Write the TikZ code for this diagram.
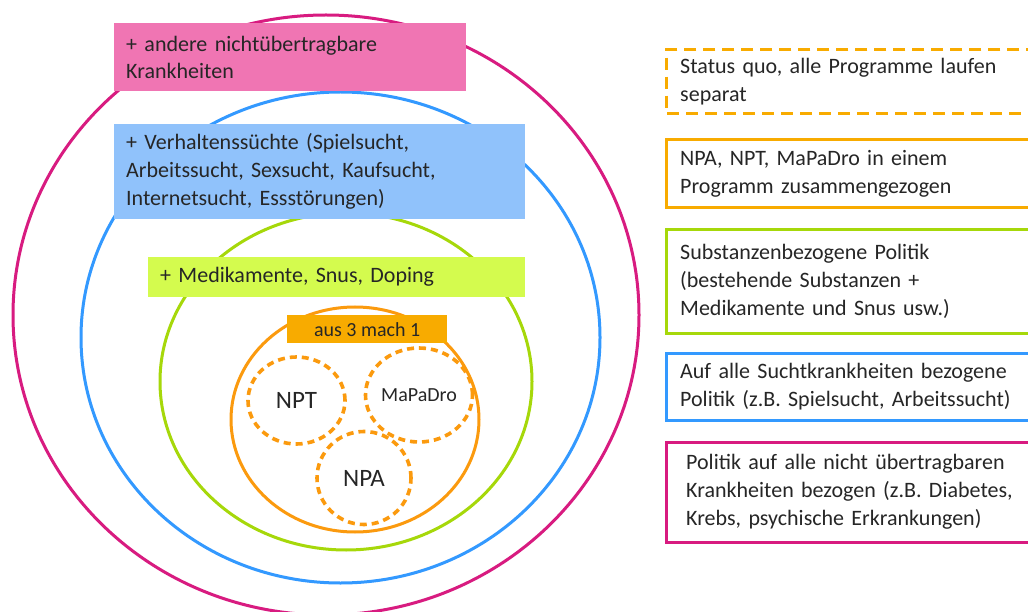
\documentclass[tikz,border=0pt]{standalone}
\usepackage{fontspec}
\setmainfont{Carlito}
\usetikzlibrary{shapes.geometric}

\definecolor{ink}{HTML}{262626}
\definecolor{magline}{HTML}{D81B80}
\definecolor{magfill}{HTML}{F075B3}
\definecolor{blueline}{HTML}{3399FF}
\definecolor{bluefill}{HTML}{90C2FB}
\definecolor{greenline}{HTML}{A6D80A}
\definecolor{greenfill}{HTML}{D4FB4E}
\definecolor{orgline}{HTML}{FB9A0E}
\definecolor{orgfill}{HTML}{F8AB00}

\tikzset{
  txt/.style={font=\fontsize{22pt}{28pt}\selectfont, text=ink},
  ring/.style={ellipse, draw=#1, line width=3pt, inner sep=0pt},
  subring/.style={ellipse, draw=orgline, line width=3.6pt,
    dash pattern=on 7pt off 5pt, inner sep=0pt, text=ink,
    font=\fontsize{25pt}{28pt}\selectfont},
  tagbox/.style={rectangle, anchor=north west, fill=#1, inner xsep=12pt,
    inner ysep=0pt, align=left, txt},
  legendbox/.style={rectangle, anchor=north west, inner xsep=14pt,
    inner ysep=0pt, align=left, txt, text width=420pt},
  legendframe/.style={draw=#1, line width=3pt},
}

\begin{document}
\begin{tikzpicture}[x=1pt,y=-1pt]
  \useasboundingbox (0,0) rectangle (1028,612);
  \clip (0,0) rectangle (1028,612);
  \fill[white] (0,0) rectangle (1028,612);

  % nested policy scopes
  \node[ring=magline, minimum width=626pt, minimum height=600pt] (ncd) at (326,315) {};
  \node[ring=blueline, minimum width=519pt, minimum height=491pt] (sucht) at (340.5,337.5) {};
  \node[ring=greenline, minimum width=372pt, minimum height=337pt] (subst) at (346,381.5) {};
  \node[ring=orgline, minimum width=248pt, minimum height=225pt] (merged) at (355,419.5) {};

  % the three current programmes
  \node[subring, minimum width=97pt, minimum height=87pt] (npt) at (296.5,400.5) {NPT};
  \node[subring, minimum width=102pt, minimum height=94pt,
        font=\fontsize{20pt}{22pt}\selectfont] (mapadro) at (419,395) {MaPaDro};
  \node[subring, minimum width=94pt, minimum height=93pt] (npa) at (364,478) {NPA};

  % scope labels
  \node[tagbox=magfill, minimum width=352pt, minimum height=68pt, text width=328pt,
        font=\fontsize{22pt}{27pt}\selectfont]
    (tagncd) at (114,23) {+ andere nichtübertragbare\\Krankheiten};
  \node[tagbox=bluefill, minimum width=411pt, minimum height=95pt, text width=387pt]
    (tagsucht) at (114,124) {+ Verhaltenssüchte (Spielsucht,\\Arbeitssucht, Sexsucht, Kaufsucht,\\Internetsucht, Essstörungen)};
  \node[tagbox=greenfill, minimum width=377pt, minimum height=40pt, text width=353pt]
    (tagsubst) at (148,257) {+ Medikamente, Snus, Doping};
  \node[tagbox=orgfill, minimum width=160pt, minimum height=28pt, align=center,
        font=\fontsize{20pt}{24pt}\selectfont]
    (tagmerged) at (287,315) {aus 3 mach 1};

  % legend: boxes open towards the right margin
  \node[legendbox, minimum height=63pt]
    (leg1) at (666,50) {Status quo, alle Programme laufen\\separat};
  \node[legendbox, minimum height=67pt]
    (leg2) at (666,140) {NPA, NPT, MaPaDro in einem\\Programm zusammengezogen};
  \node[legendbox, minimum height=103pt]
    (leg3) at (666,230) {Substanzenbezogene Politik\\(bestehende Substanzen +\\Medikamente und Snus usw.)};
  \node[legendbox, minimum height=67pt]
    (leg4) at (666,353) {Auf alle Suchtkrankheiten bezogene\\Politik (z.B. Spielsucht, Arbeitssucht)};
  \node[legendbox, minimum height=100pt, inner xsep=20pt]
    (leg5) at (666,442) {Politik auf alle nicht übertragbaren\\Krankheiten bezogen (z.B. Diabetes,\\Krebs, psychische Erkrankungen)};

  \draw[legendframe=orgfill, dash pattern=on 12pt off 7pt]
    (leg1.north east) -- (leg1.north west) -- (leg1.south west) -- (leg1.south east);
  \draw[legendframe=orgfill]
    (leg2.north east) -- (leg2.north west) -- (leg2.south west) -- (leg2.south east);
  \draw[legendframe=greenline]
    (leg3.north east) -- (leg3.north west) -- (leg3.south west) -- (leg3.south east);
  \draw[legendframe=blueline]
    (leg4.north east) -- (leg4.north west) -- (leg4.south west) -- (leg4.south east);
  \draw[legendframe=magline]
    (leg5.north east) -- (leg5.north west) -- (leg5.south west) -- (leg5.south east);
\end{tikzpicture}
\end{document}
